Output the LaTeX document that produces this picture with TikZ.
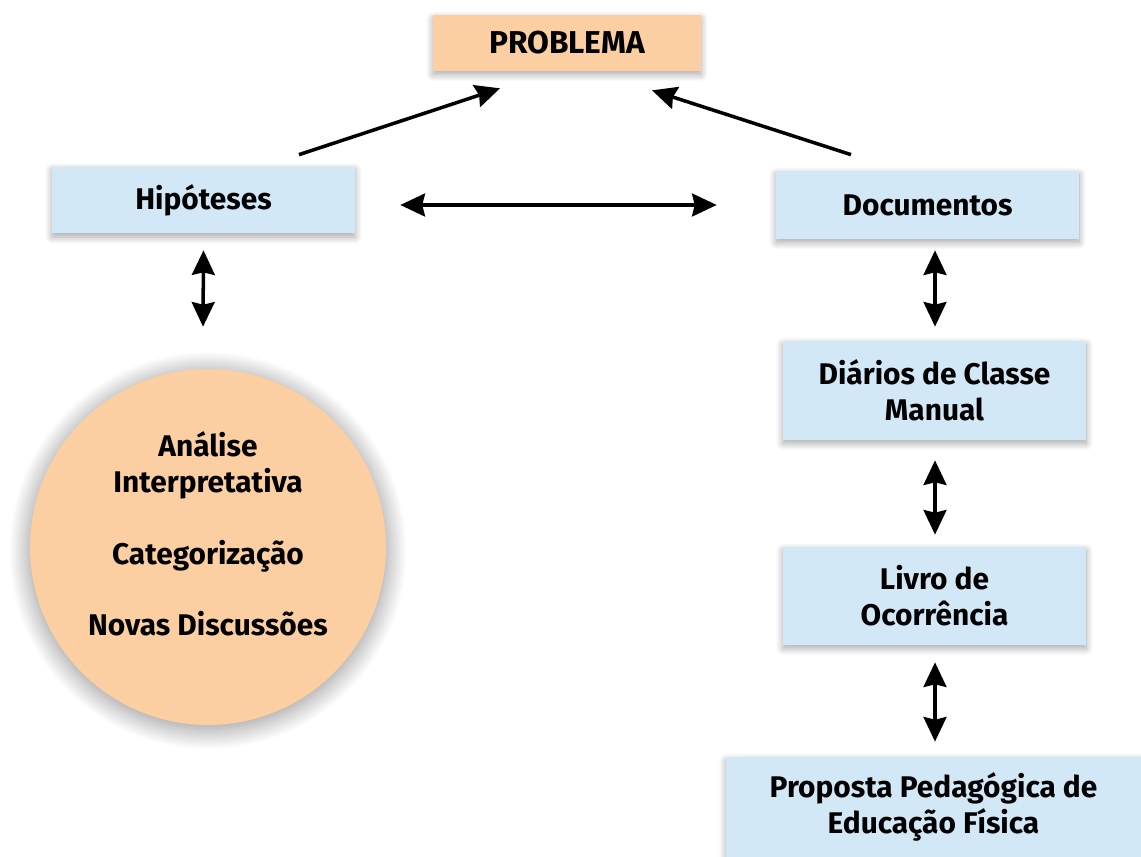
\documentclass[tikz,border=0pt]{standalone}
\usepackage{fontspec}
\setmainfont{Fira Sans}
\usetikzlibrary{arrows.meta,shadows.blur}
\definecolor{boxblue}{RGB}{210,232,246}
\definecolor{boxorange}{RGB}{251,207,161}

\begin{document}
\begin{tikzpicture}[x=0.02cm,y=-0.02cm,>={Stealth[length=14pt,width=13pt,inset=1.5pt]},
		box/.style={fill=boxblue,inner sep=0pt,align=center,minimum width=6.06cm,
			blur shadow={shadow xshift=0pt,shadow yshift=-2pt,shadow blur radius=4pt,shadow blur steps=12,shadow opacity=35},
			font=\bfseries\fontsize{17}{20.4}\selectfont},
		link/.style={<->,line width=2pt}]
			\useasboundingbox (0,0) rectangle (1141,857);
			% boxes
			\node[box,fill=boxorange,minimum width=5.36cm,minimum height=1.12cm,font=\bfseries\fontsize{18}{21}\selectfont] (problema) at (567,43) {PROBLEMA};
			\node[box,minimum height=1.34cm] (hipoteses) at (203.5,200) {Hipóteses};
			\node[box,minimum height=1.36cm] (documentos) at (927.5,205) {Documentos};
			\node[box,minimum height=1.98cm] (diarios) at (934.5,390.5) {Diários de Classe\\Manual};
			\node[box,minimum height=1.96cm] (livro) at (934.5,596) {Livro de\\Ocorrência};
			\node[box,minimum width=8.3cm,minimum height=2cm] (proposta) at (933.5,807) {Proposta Pedagógica de\\Educação Física};
			\node[circle,fill=boxorange,minimum size=7.12cm,inner sep=0pt,
				blur shadow={shadow xshift=0pt,shadow yshift=-2pt,shadow blur radius=12pt,shadow blur steps=30,shadow opacity=45}] (circulo) at (208,547) {};
			\node[align=center,font=\bfseries\fontsize{17}{20.4}\selectfont] (analise) at (208,534)
				{Análise\\Interpretativa\\[20.4pt]Categorização\\[20.4pt]Novas Discussões};
			% arrows
			\draw[->,line width=2pt] ([shift={(95.5,-11.5)}]hipoteses.north) -- ([shift={(-67,17)}]problema.south);
			\draw[->,line width=2pt] ([shift={(-76.5,-16)}]documentos.north) -- ([shift={(85,19)}]problema.south);
			\draw[link] ([shift={(45,5)}]hipoteses.east) -- ([shift={(-59,0)}]documentos.west);
			\draw[link] ([shift={(0,16.5)}]hipoteses.south) -- ([shift={(-5,-42)}]circulo.north);
			\draw[link] ([shift={(7.5,11)}]documentos.south) -- ([shift={(0.5,-14)}]diarios.north);
			\draw[link] ([shift={(0.5,20)}]diarios.south) -- ([shift={(0.5,-12)}]livro.north);
			\draw[link] ([shift={(0.5,17)}]livro.south) -- ([shift={(1.5,-15)}]proposta.north);
		\end{tikzpicture}
\end{document}
